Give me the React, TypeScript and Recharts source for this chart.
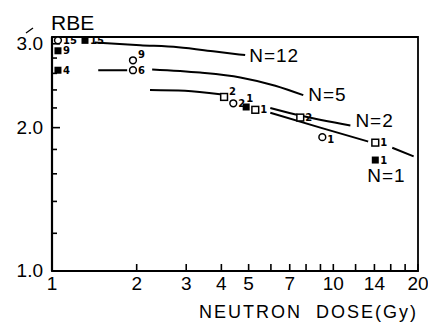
import { ComposedChart, Line, Scatter, XAxis, YAxis, ReferenceArea } from 'recharts';

const xTicks = [1, 2, 3, 4, 5, 6, 7, 8, 9, 10, 12, 14, 16, 18, 20];
const xLabeled = [1, 2, 3, 4, 5, 7, 10, 14, 20];
const yTicks = [1, 1.2, 1.4, 1.6, 1.8, 2, 2.2, 2.4, 2.6, 2.8, 3];
const yLabeled = [1, 2, 3];

// fitted curves for each N (null = gap in the drawn line)
const curveN12 = [
    { x: 1.42, y: 3.02 },
    { x: 2.06, y: 2.98 },
    { x: 2.81, y: 2.95 },
    { x: 3.8, y: 2.89 },
    { x: 4.86, y: 2.84 },
];
const curveN5 = [
    { x: 1.46, y: 2.64 },
    { x: 1.85, y: 2.64 },
    { x: 2.0, y: null },
    { x: 2.27, y: 2.65 },
    { x: 3.36, y: 2.61 },
    { x: 4.67, y: 2.55 },
    { x: 6.22, y: 2.45 },
    { x: 7.82, y: 2.34 },
];
const curveN2 = [
    { x: 2.23, y: 2.4 },
    { x: 2.97, y: 2.39 },
    { x: 3.96, y: 2.35 },
    { x: 5.0, y: null },
    { x: 5.97, y: 2.2 },
    { x: 7.63, y: 2.12 },
    { x: 11.5, y: 2.02 },
];
const curveN1 = [
    { x: 5.97, y: 2.15 },
    { x: 8.99, y: 2.0 },
    { x: 13.3, y: 1.87 },
    { x: 14.5, y: null },
    { x: 16.2, y: 1.815 },
    { x: 19.3, y: 1.74 },
];

// measured points: oc = open circle, os = open square, fs = filled square
const measured = [
    { x: 1.05, y: 3.05, kind: 'oc', label: '15' },
    { x: 1.31, y: 3.05, kind: 'fs', label: '15' },
    { x: 1.05, y: 2.9, kind: 'fs', label: '9' },
    { x: 1.05, y: 2.64, kind: 'fs', label: '4' },
    { x: 1.94, y: 2.77, kind: 'oc', label: '9' },
    { x: 1.94, y: 2.64, kind: 'oc', label: '6' },
    { x: 4.09, y: 2.32, kind: 'os', label: '2' },
    { x: 4.41, y: 2.25, kind: 'oc', label: '2' },
    { x: 4.9, y: 2.21, kind: 'fs', label: '1' },
    { x: 5.28, y: 2.18, kind: 'os', label: '1' },
    { x: 7.63, y: 2.1, kind: 'os', label: '2' },
    { x: 9.14, y: 1.91, kind: 'oc', label: '1' },
    { x: 14.1, y: 1.86, kind: 'os', label: '1' },
    { x: 14.1, y: 1.71, kind: 'fs', label: '1' },
];
const labelPlacement = ['r', 'r', 'r', 'r', 'ur', 'r', 'ur', 'r', 'u', 'r', 'r', 'dr', 'r', 'r'];

const FONT = "'Liberation Sans', Arial, sans-serif";

const XTick = ({ x, y, payload }: any) => (
    <g>
        <line x1={x} y1={y} x2={x} y2={y - 7} stroke="#000" strokeWidth={1.6} />
        {xLabeled.includes(payload.value) && (
            <text x={x} y={y + 19} textAnchor="middle" fontSize={19} fontFamily={FONT} fill="#000">
                {payload.value}
            </text>
        )}
    </g>
);

const YTick = ({ x, y, payload }: any) => {
    const major = yLabeled.includes(payload.value);
    return (
        <g>
            <line x1={x} y1={y} x2={x + (major ? 8 : 5)} y2={y} stroke="#000" strokeWidth={1.6} />
            {major && (
                <text x={x - 9} y={y + 6} textAnchor="end" fontSize={19} fontFamily={FONT} fill="#000">
                    {payload.value.toFixed(1)}
                </text>
            )}
        </g>
    );
};

const MarkerShape = (props: any) => {
    const { cx, cy, payload, index } = props;
    const place = labelPlacement[index] || 'r';
    let tx = cx + 5;
    let ty = cy + 3.5;
    if (place === 'ur') ty = cy - 2;
    if (place === 'u') { tx = cx; ty = cy - 5; }
    if (place === 'dr') ty = cy + 6;
    return (
        <g>
            {payload.kind === 'oc' && (
                <circle cx={cx} cy={cy} r={3.4} fill="#fff" stroke="#000" strokeWidth={1.5} />
            )}
            {payload.kind === 'os' && (
                <rect x={cx - 3.4} y={cy - 3.4} width={6.8} height={6.8} fill="#fff" stroke="#000" strokeWidth={1.5} />
            )}
            {payload.kind === 'fs' && (
                <rect x={cx - 3.5} y={cy - 3.5} width={7} height={7} fill="#000" />
            )}
            <text x={tx} y={ty} fontSize={10} fontWeight="bold" fontFamily="'DejaVu Sans', sans-serif" fill="#000">
                {payload.label}
            </text>
        </g>
    );
};

const curveLabel = (text: string, last: number, dx: number, dy: number, anchor = 'start') => (p: any) => {
    if (p.index !== last) return null;
    return (
        <text
            x={p.x + dx}
            y={p.y + dy}
            textAnchor={anchor}
            fontSize={19}
            fontFamily={FONT}
            letterSpacing={1}
            fill="#000"
        >
            {text}
        </text>
    );
};

export default function App() {
    return (
        <div style={{ position: 'absolute', left: 0, top: 0, width: 428, height: 323, background: '#fff' }}>
            <ComposedChart width={428} height={323} margin={{ top: 37, right: 10, bottom: 0, left: 0 }}>
                <XAxis
                    dataKey="x"
                    type="number"
                    scale="log"
                    domain={[1, 20]}
                    ticks={xTicks}
                    interval={0}
                    allowDataOverflow
                    height={52}
                    tickSize={0}
                    tickMargin={0}
                    tickLine={false}
                    axisLine={{ stroke: '#000', strokeWidth: 2.2 }}
                    tick={<XTick />}
                    label={{
                        content: ({ viewBox }: any) => (
                            <text
                                x={viewBox.x + viewBox.width}
                                y={viewBox.y + 47}
                                textAnchor="end"
                                fontSize={18}
                                fontFamily={FONT}
                                letterSpacing={2}
                                style={{ whiteSpace: 'pre' }}
                                fill="#000"
                            >
                                {'NEUTRON  DOSE(Gy)'}
                            </text>
                        ),
                    }}
                />
                <YAxis
                    dataKey="y"
                    type="number"
                    scale="log"
                    domain={[1, 3.1]}
                    ticks={yTicks}
                    interval={0}
                    allowDataOverflow
                    width={52}
                    tickSize={0}
                    tickMargin={0}
                    tickLine={false}
                    axisLine={{ stroke: '#000', strokeWidth: 2.2 }}
                    tick={<YTick />}
                    label={{
                        content: ({ viewBox }: any) => (
                            <g>
                                <line x1={26} y1={33} x2={33} y2={28} stroke="#000" strokeWidth={1.3} />
                                <text x={viewBox.x + viewBox.width - 1} y={30} fontSize={21} fontFamily={FONT} fill="#000">
                                    RBE
                                </text>
                            </g>
                        ),
                    }}
                />
                <ReferenceArea x1={1} x2={20} y1={1} y2={3.1} fill="none" stroke="#000" strokeWidth={1.8} />
                <Line data={curveN12} dataKey="y" type="monotone" stroke="#000" strokeWidth={2} dot={false} isAnimationActive={false} label={curveLabel('N=12', curveN12.length - 1, 4, 7)} />
                <Line data={curveN5} dataKey="y" type="monotone" stroke="#000" strokeWidth={2} dot={false} isAnimationActive={false} label={curveLabel('N=5', curveN5.length - 1, 5, 6)} />
                <Line data={curveN2} dataKey="y" type="monotone" stroke="#000" strokeWidth={2} dot={false} isAnimationActive={false} label={curveLabel('N=2', curveN2.length - 1, 5, 1)} />
                <Line data={curveN1} dataKey="y" type="monotone" stroke="#000" strokeWidth={2} dot={false} isAnimationActive={false} label={curveLabel('N=1', curveN1.length - 1, -8, 26, 'end')} />
                <Scatter data={measured} dataKey="y" shape={<MarkerShape />} isAnimationActive={false} />
            </ComposedChart>
        </div>
    );
}
